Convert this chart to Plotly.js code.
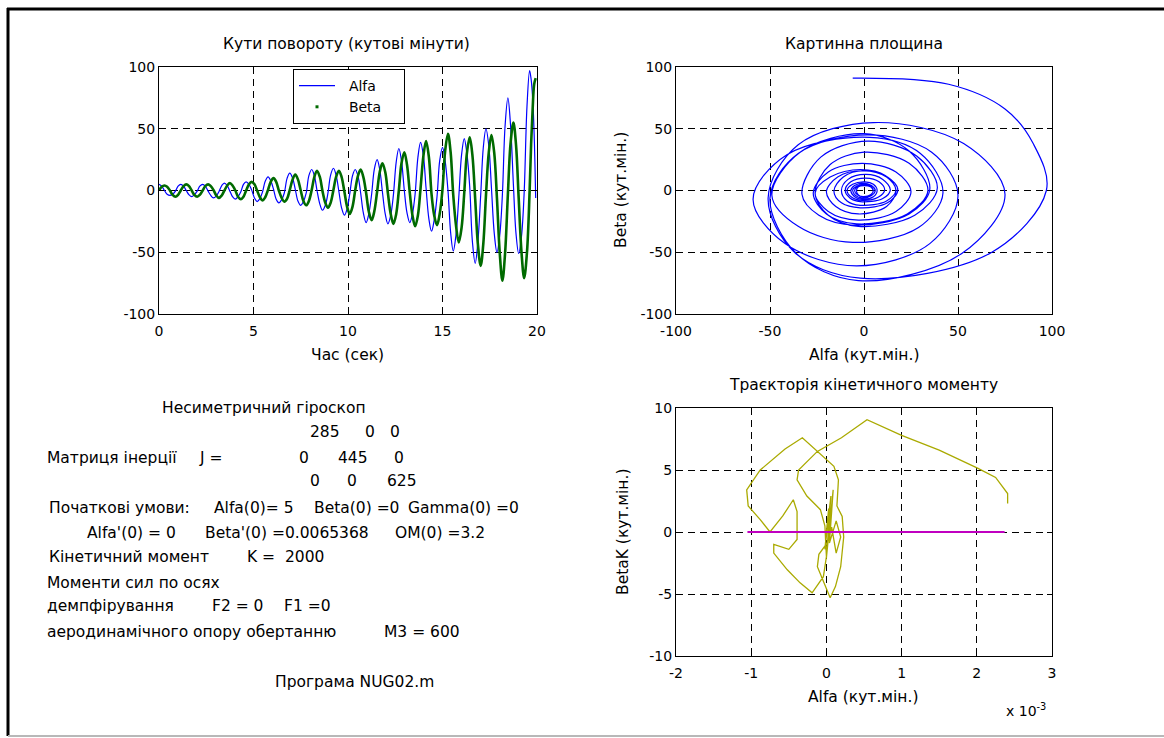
<!DOCTYPE html>
<html>
<head>
<meta charset="utf-8">
<script src="https://cdn.plot.ly/plotly-3.0.1.min.js"></script>
<style>html,body{margin:0;padding:0;background:#fff;}#chart{width:1164px;height:738px;}</style>
</head>
<body>
<div id="chart"></div>
<script>
// ---- data ----
const tSec = [0.00,0.14,0.29,0.43,0.58,0.72,0.87,1.01,1.15,1.30,1.44,1.59,1.73,1.87,2.02,2.16,2.31,2.45,2.60,2.74,
  2.88,3.03,3.17,3.32,3.46,3.61,3.75,3.89,4.04,4.18,4.33,4.47,4.61,4.76,4.90,5.05,5.19,5.34,5.48,5.62,
  5.77,5.91,6.06,6.20,6.34,6.49,6.63,6.78,6.92,7.07,7.21,7.35,7.50,7.64,7.79,7.93,8.08,8.22,8.36,8.51,
  8.65,8.80,8.94,9.08,9.23,9.37,9.52,9.66,9.81,9.95,10.09,10.24,10.38,10.53,10.67,10.81,10.96,11.10,11.25,11.39,
  11.54,11.68,11.82,11.97,12.11,12.26,12.40,12.55,12.69,12.83,12.98,13.12,13.27,13.41,13.55,13.70,13.84,13.99,14.13,14.28,
  14.42,14.56,14.71,14.85,15.00,15.14,15.29,15.43,15.57,15.72,15.86,16.01,16.15,16.29,16.44,16.58,16.73,16.87,17.02,17.16,
  17.30,17.45,17.59,17.74,17.88,18.03,18.17,18.31,18.46,18.60,18.75,18.89,19.03,19.18,19.32,19.47,19.61,19.69,19.77,19.85,
  19.93];
const alfa = [5,3.5,0,-3,-4,-3,-0.5,3.5, 5,3.5,0,-3.5,-5,-3.5,-0.5,3.5, 5,3.5,-0.5,-4,-6,-4.5,-1,4,
  6,4,-0.5,-5,-7,-5,-1,5, 7,5,0.5,-6,-9,-6.5,-1,7.5, 11,8,1,-7,-10,-7.5,-2,10,
  14,10,1,-8.5,-12,-9,-2,12, 17,12,0,-11,-16,-12,-2,12.5, 18,12.5,-1,-14,-20,-15,-3,12,
  17,11.5,-2,-18,-26,-19,-3,17, 25,17,-1,-19,-27,-20,-4,23, 34,24,0,-18,-26,-19,-3,27,
  39,28,2,-23,-33,-24,-5,24, 35,24,0,-34,-49,-35,-6,29, 42,30,3,-41,-59,-42,-4,35,
  50,36,2,-35,-50,-36,-3,52, 75,53,5,-35,-51,-37,-2,68, 97,90,75,45,-6];
const beta = [0,3,4,3,0,-3.5,-5,-3.5, 0,3.5,5,3.5,0,-3.5,-5,-3.5, 0,3.5,5,3.5,0.5,-4,-6,-4,
  0,4,6,4,0,-5,-7,-5, 0,5,7,5,0,-5.5,-8,-5.5, 0.5,7,10,7,0,-6,-9,-6.5,
  0.5,9,13,9,0,-8.5,-12,-8.5, 0.5,11,16,11,-0.5,-10,-14,-10, 0.5,11,16,11,-1,-13,-19,-13,
  0,12,17,11,-2,-17,-24,-17, -1,15,22,15,-2,-19,-27,-19, 0,22,31,21,-2,-20,-29,-20,
  2,28,40,27,-3,-20,-28,-19, 1,32,46,31,-4,-29,-42,-30, -2,30,43,29,-7,-43,-61,-43,
  -4,31,45,30,-6,-51,-73,-51, -3,38,55,37,-6,-50,-71,-50, 0,38,66,86,91];
// kinetic-moment trajectory, Alfa in units of 1e-3
const kinAlfaE3 = [0,0.03,-0.02,0.06,0.0,0.09,0.04,0.13,0.19,0.13,0.07,
  0.02,-0.10,-0.12,-0.06,0.05,
  0.12,0.19,0.23,0.21,0.14,0.16,0.10,-0.12,-0.32,
  -0.55,-0.88,-1.06,-1.04,-0.88,-0.75,
  -0.58,-0.44,-0.39,-0.39,-0.50,-0.70,
  -0.70,-0.52,-0.35,-0.19,
  -0.04,0.0,-0.02,-0.08,-0.26,-0.39,-0.37,-0.12,0.2,0.54,
  1.0,1.5,2.01,2.25,2.41,2.41];
const kinBeta = [0,1.9,-1.4,2.9,-2.1,3.4,-0.9,0.9,-0.4,-1.7,0.4,
  -0.8,-1.8,-2.8,-3.7,-5.3,
  -4.4,-2.8,-0.4,1.25,2.1,4.2,5.3,6.5,7.6,
  6.7,5.0,3.4,2.1,1.0,0.0,
  1.3,2.6,1.65,-0.6,-1.4,-1.0,
  -1.7,-3.05,-4.1,-4.9,
  -3.6,-2.0,0.5,1.8,2.9,4.2,5.0,6.5,7.6,9.05,
  7.8,6.6,5.15,4.4,3.1,2.3];
const kinZeroX = [-1.05, 2.37];
const kinZeroY = [0, 0];
const ticksTime = [0,5,10,15,20];
const labelsTime = ['0','5','10','15','20'];
const ticksAngle = [-100,-50,0,50,100];
const labelsAngle = ['-100','-50','0','50','100'];
const ticksKinX = [-2,-1,0,1,2,3];
const labelsKinX = ['-2','-1','0','1','2','3'];
const ticksKinY = [-10,-5,0,5,10];
const labelsKinY = ['-10','-5','0','5','10'];

// ---- layout helpers (pixel -> paper) ----
const W = 1164, H = 738;
const px = v => v / W;
const py = v => 1 - v / H;
const FONT = 'DejaVu Sans';
const NB = '\u00a0';

const traces = [
  {x: tSec, y: alfa, type: 'scatter', mode: 'lines', name: NB + NB + 'Alfa' + NB.repeat(5),
   line: {color: '#0000ff', width: 1.2, shape: 'spline'}, xaxis: 'x', yaxis: 'y'},
  {x: tSec, y: beta, type: 'scatter', mode: 'lines', name: 'Beta', showlegend: false,
   line: {color: '#006a00', width: 2.6, shape: 'spline'}, xaxis: 'x', yaxis: 'y'},
  {x: [null], y: [null], type: 'scatter', mode: 'markers', name: NB + NB + 'Beta',
   marker: {color: '#006a00', size: 3, symbol: 'square'}, xaxis: 'x', yaxis: 'y'},
  {x: alfa, y: beta, type: 'scatter', mode: 'lines', showlegend: false,
   line: {color: '#0000ff', width: 1.2, shape: 'spline'}, xaxis: 'x2', yaxis: 'y2'},
  {x: kinAlfaE3, y: kinBeta, type: 'scatter', mode: 'lines', showlegend: false,
   line: {color: '#aaaa00', width: 1.3}, xaxis: 'x3', yaxis: 'y3'},
  {x: kinZeroX, y: kinZeroY, type: 'scatter', mode: 'lines', showlegend: false,
   line: {color: '#c000c0', width: 2}, xaxis: 'x3', yaxis: 'y3'}
];

function ax(extra) {
  return Object.assign({
    showline: true, linecolor: '#000', linewidth: 1, mirror: 'ticks',
    ticks: 'inside', ticklen: 5, tickcolor: '#000', tickwidth: 1,
    showgrid: true, gridcolor: '#000', gridwidth: 1, griddash: '7px,5px',
    zeroline: false, tickfont: {family: FONT, size: 14, color: '#000'},
    tickmode: 'array', fixedrange: true
  }, extra);
}

const dom1x = [px(159), px(537)], dom2x = [px(676), px(1052)];
const domTopY = [py(314), py(67)], domBotY = [py(656), py(408)];

function ann(text, x, y, opts) {
  return Object.assign({text: text, x: px(x), y: py(y), xref: 'paper', yref: 'paper',
    showarrow: false, xanchor: 'left', yanchor: 'middle',
    font: {family: FONT, size: 15.5, color: '#000'}}, opts || {});
}
const C = {xanchor: 'center'};

const annotations = [
  ann('Кути повороту (кутові мінути)', 346, 44, C),
  ann('Картинна площина', 864, 44, C),
  ann('Траєкторія кінетичного моменту', 863, 385, C),
  ann('Час (сек)', 347, 355, C),
  ann('Alfa (кут.мін.)', 864, 355, C),
  ann('Alfa (кут.мін.)', 863, 697, C),
  ann('Beta (кут.мін.)', 621, 190, {xanchor: 'center', textangle: -90}),
  ann('BetaK (кут.мін.)', 623, 532, {xanchor: 'center', textangle: -90}),
  ann('x 10<sup>-3</sup>', 1004, 710, {font: {family: FONT, size: 14, color: '#000'}}),
  ann('Несиметричний гіроскоп', 160, 408),
  ann('285', 308, 432), ann('0', 363, 432), ann('0', 388, 432),
  ann('Матриця інерції', 45, 458), ann('J =', 197, 458), ann('0', 297, 458), ann('445', 336, 458), ann('0', 392, 458),
  ann('0', 308, 481), ann('0', 345, 481), ann('625', 385, 481),
  ann('Початкові умови:', 47, 508), ann('Alfa(0)= 5', 212, 508), ann('Beta(0) =0', 312, 508), ann('Gamma(0) =0', 406, 508),
  ann("Alfa'(0) = 0", 85, 533), ann("Beta'(0) =0.0065368", 203, 533), ann('OM(0) =3.2', 393, 533),
  ann('Кінетичний момент', 47, 557), ann('K =  2000', 245, 557),
  ann('Моменти сил по осях', 45, 583),
  ann('демпфірування', 45, 606), ann('F2 = 0', 210, 606), ann('F1 =0', 282, 606),
  ann('аеродинамічного опору обертанню', 45, 632), ann('M3 = 600', 382, 632),
  ann('Програма NUG02.m', 273, 682)
];

const shapes = [
  {type: 'line', xref: 'paper', yref: 'paper', x0: px(8), x1: px(8), y0: py(8), y1: py(736), line: {color: '#000', width: 3}},
  {type: 'line', xref: 'paper', yref: 'paper', x0: px(7), x1: 1, y0: py(9), y1: py(9), line: {color: '#000', width: 3}},
  {type: 'line', xref: 'paper', yref: 'paper', x0: px(8), x1: 1, y0: py(736), y1: py(736), line: {color: '#b8b8b8', width: 2}}
];

const layout = {
  width: W, height: H, margin: {l: 0, r: 0, t: 0, b: 0},
  paper_bgcolor: '#fff', plot_bgcolor: '#fff',
  font: {family: FONT, size: 14, color: '#000'},
  showlegend: true,
  legend: {x: px(293), y: py(69), xanchor: 'left', yanchor: 'top', bgcolor: '#fff',
    bordercolor: '#000', borderwidth: 1, font: {family: FONT, size: 14, color: '#000'}, itemwidth: 36},
  xaxis: ax({domain: dom1x, range: [0, 20], tickvals: ticksTime, ticktext: labelsTime, anchor: 'y', ticklabelstandoff: 4}),
  yaxis: ax({domain: domTopY, range: [-100, 100], tickvals: ticksAngle, ticktext: labelsAngle, anchor: 'x'}),
  xaxis2: ax({domain: dom2x, range: [-100, 100], tickvals: ticksAngle, ticktext: labelsAngle, anchor: 'y2', ticklabelstandoff: 4}),
  yaxis2: ax({domain: domTopY, range: [-100, 100], tickvals: ticksAngle, ticktext: labelsAngle, anchor: 'x2'}),
  xaxis3: ax({domain: dom2x, range: [-2, 3], tickvals: ticksKinX, ticktext: labelsKinX, anchor: 'y3', ticklabelstandoff: 4}),
  yaxis3: ax({domain: domBotY, range: [-10, 10], tickvals: ticksKinY, ticktext: labelsKinY, anchor: 'x3'}),
  annotations: annotations,
  shapes: shapes
};

Plotly.newPlot('chart', traces, layout, {displayModeBar: false, staticPlot: true});
</script>
</body>
</html>
